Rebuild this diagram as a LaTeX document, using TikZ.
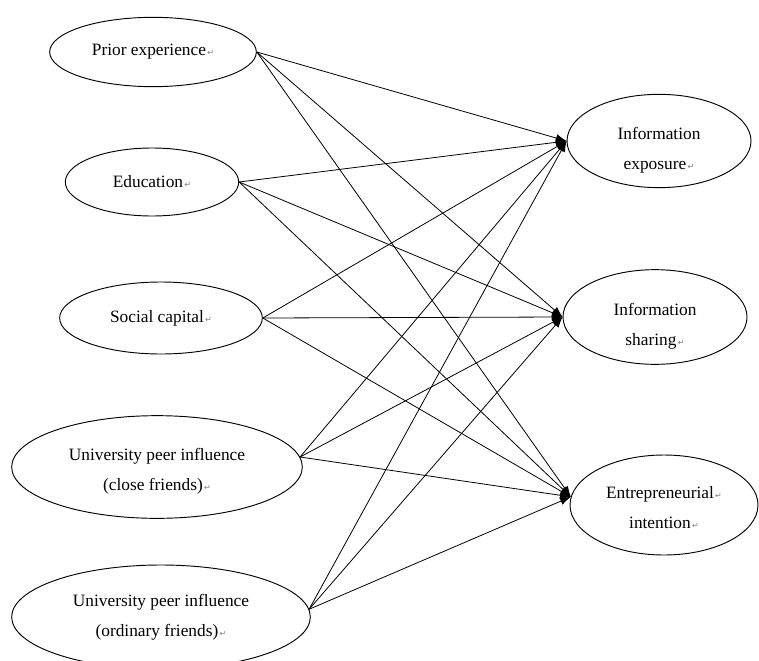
\documentclass[tikz,border=0pt]{standalone}
\usepackage{fontspec}
\setmainfont{Liberation Serif}
\newfontfamily\markfont{DejaVu Sans}
\usetikzlibrary{shapes.geometric,arrows.meta}
\newcommand{\pmark}{{\markfont\fontsize{6}{6}\selectfont\color{gray}\,↵}}
\newcommand{\twolines}[3]{\raisebox{-#1}[\height][\depth]{\begin{tabular}{@{}c@{}}#2\\#3\end{tabular}}}
\tikzset{
  var/.style={draw, ellipse, line width=0.7pt, inner sep=0pt, align=center,
    font=\fontsize{13}{22.5}\selectfont},
  link/.style={line width=0.6pt, -{Latex[length=8pt,width=6pt]}}
}
\begin{document}
\begin{tikzpicture}[x=0.75pt,y=-0.75pt]
\useasboundingbox (0,0) rectangle (759,660);
\clip (0,0) rectangle (759,660);
% sources
\node[var, minimum width=155pt, minimum height=52pt] (pe) at (153,52) {Prior experience\pmark};
\node[var, minimum width=130pt, minimum height=51pt] (ed) at (152,182) {Education\pmark};
\node[var, minimum width=152pt, minimum height=54pt] (sc) at (161,318) {Social capital\pmark};
\node[var, minimum width=218pt, minimum height=77pt] (uc) at (157,467) {\twolines{2pt}{University peer influence}{(close friends)\pmark}};
\node[var, minimum width=224pt, minimum height=78pt] (uo) at (161,617) {University peer influence\\(ordinary friends)\pmark};
% targets
\node[var, minimum width=138pt, minimum height=70pt] (ie) at (659,141) {\twolines{5.5pt}{Information}{exposure\pmark}};
\node[var, minimum width=138pt, minimum height=71pt] (is) at (655,317) {\twolines{5.5pt}{Information}{sharing\pmark}};
\node[var, minimum width=141pt, minimum height=75pt] (ei) at (664,505) {\twolines{2pt}{Entrepreneurial\pmark}{intention\pmark}};
% connectors
\foreach \s/\a in {pe/east, ed/east, sc/east, uc/4, uo/3}{
  \draw[link] (\s.\a) -- (ie.west);
  \draw[link] (\s.\a) -- (is.west);
  \draw[link] (\s.\a) -- (ei.175);
}
\end{tikzpicture}
\end{document}
